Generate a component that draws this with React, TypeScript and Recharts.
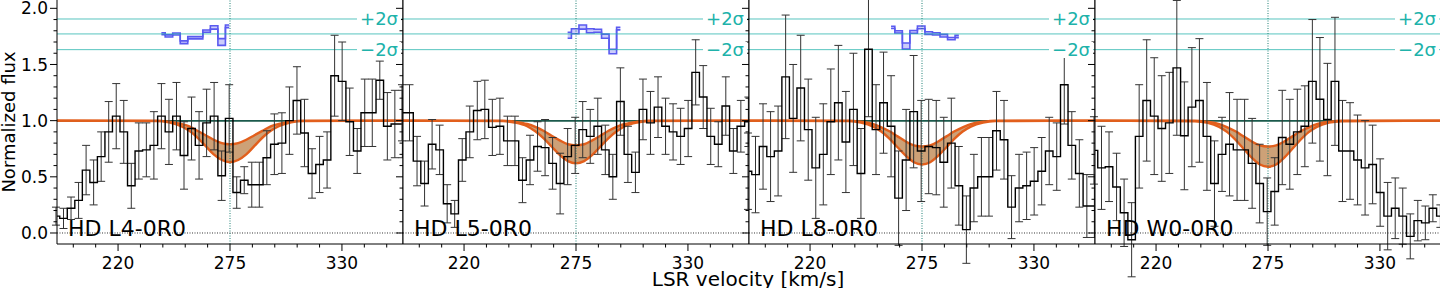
import { ComposedChart, Line, Area, XAxis, YAxis, ReferenceLine, ErrorBar } from "recharts"

const binCenters = [
  189.5, 193.2, 196.9, 200.6, 204.3, 208.0, 211.7, 215.4, 219.1, 222.8, 226.5, 230.2,
  233.9, 237.6, 241.3, 245.0, 248.7, 252.4, 256.1, 259.8, 263.5, 267.2, 270.9, 274.6,
  278.3, 282.0, 285.7, 289.4, 293.1, 296.8, 300.5, 304.2, 307.9, 311.6, 315.3, 319.0,
  322.7, 326.4, 330.1, 333.8, 337.5, 341.2, 344.9, 348.6, 352.3, 356.0, 359.7,
]

const xTicks = [198, 209, 220, 231, 242, 253, 264, 275, 286, 297, 308, 319, 330, 341, 352]
const xMajor = [220, 275, 330]
const yTicks = [0, 0.1, 0.2, 0.3, 0.4, 0.5, 0.6, 0.7, 0.8, 0.9, 1.0, 1.1, 1.2, 1.3, 1.4, 1.5, 1.6, 1.7, 1.8, 1.9, 2.0]
const yMajor = [0, 0.5, 1, 1.5, 2]
const sigmaLevels = [1.632, 1.772, 1.905]
const lineCenter = 275
const continuumVel = [190, 360]
const continuumLevel = [1, 1]

const fluxL4 = [0.15, 0.13, 0.22, 0.29, 0.56, 0.45, 0.68, 0.90, 1.04, 0.90, 0.42, 0.73, 0.74, 0.78, 1.04, 0.90, 1.04, 0.69, 0.93, 0.78, 0.98, 1.04, 0.51, 1.02, 0.36, 0.47, 0.43, 0.43, 0.67, 0.79, 0.80, 1.00, 1.18, 0.89, 0.53, 0.61, 0.65, 1.40, 1.35, 0.99, 0.73, 1.07, 1.07, 1.36, 0.95, 0.97, 0.97]
const errL4 = [0.08, 0.09, 0.1, 0.16, 0.22, 0.2, 0.22, 0.27, 0.29, 0.28, 0.2, 0.25, 0.24, 0.3, 0.29, 0.29, 0.3, 0.3, 0.28, 0.3, 0.3, 0.3, 0.22, 0.3, 0.14, 0.12, 0.2, 0.2, 0.24, 0.27, 0.27, 0.3, 0.3, 0.3, 0.22, 0.25, 0.25, 0.36, 0.35, 0.3, 0.2, 0.3, 0.3, 0.17, 0.3, 0.3, 0.3]

const fluxL5 = [1.07, 1.07, 0.64, 0.44, 0.79, 0.74, 0.26, 0.17, 0.65, 0.90, 1.09, 1.10, 0.94, 0.95, 0.82, 0.82, 0.47, 0.65, 0.77, 0.76, 0.62, 0.44, 0.68, 0.78, 0.92, 0.86, 0.95, 0.74, 0.50, 1.17, 0.70, 0.54, 1.10, 0.98, 1.12, 0.95, 0.90, 0.86, 0.93, 1.43, 1.21, 0.86, 0.79, 1.13, 0.73, 0.95, 0.99]
const errL5 = [0.25, 0.25, 0.22, 0.2, 0.22, 0.22, 0.17, 0.12, 0.19, 0.23, 0.26, 0.26, 0.25, 0.25, 0.22, 0.22, 0.2, 0.22, 0.22, 0.25, 0.23, 0.27, 0.25, 0.25, 0.25, 0.24, 0.25, 0.22, 0.2, 0.3, 0.25, 0.18, 0.27, 0.28, 0.27, 0.25, 0.25, 0.25, 0.25, 0.29, 0.28, 0.25, 0.2, 0.26, 0.2, 0.23, 0.22]

const fluxL8 = [0.55, 0.52, 0.77, 0.68, 0.73, 1.39, 1.02, 1.29, 0.92, 0.58, 0.70, 0.99, 1.16, 0.81, 1.10, 0.53, 1.635, 0.92, 1.16, 0.95, 0.31, 0.65, 1.08, 0.73, 0.77, 0.76, 0.63, 0.80, 0.42, 0.03, 0.40, 0.50, 0.50, 0.91, 0.83, 0.23, 0.40, 0.42, 0.46, 0.55, 0.73, 0.68, 1.32, 0.78, 0.53, 0.24, 0.24]
const errL8 = [0.34, 0.34, 0.38, 0.4, 0.4, 0.55, 0.48, 0.47, 0.45, 0.45, 0.45, 0.47, 0.51, 0.45, 0.5, 0.4, 0.6, 0.4, 0.45, 0.45, 0.42, 0.45, 0.5, 0.45, 0.42, 0.42, 0.4, 0.4, 0.35, 0.3, 0.3, 0.35, 0.35, 0.35, 0.35, 0.28, 0.3, 0.3, 0.3, 0.3, 0.3, 0.3, 0.35, 0.3, 0.3, 0.28, 0.28]

const fluxW0 = [0.735, 0.58, 0.59, 0.41, 0.18, -0.06, 0.86, 1.18, 1.04, 0.93, 0.98, 1.47, 0.865, 1.12, 1.18, 0.86, 0.44, 0.70, 0.79, 0.74, 0.74, 0.62, 0.44, 0.19, 0.37, 0.85, 0.79, 0.90, 0.95, 1.35, 1.19, 1.01, 1.35, 0.73, 0.73, 0.65, 0.58, 0.61, 0.36, 0.15, 0.22, 0.15, -0.03, 0.11, 0.09, 0.22, 0.15]
const errW0 = [0.3, 0.37, 0.31, 0.3, 0.3, 0.33, 0.46, 0.54, 0.52, 0.47, 0.45, 0.6, 0.48, 0.53, 0.55, 0.48, 0.38, 0.33, 0.46, 0.45, 0.45, 0.4, 0.35, 0.3, 0.3, 0.42, 0.4, 0.38, 0.36, 0.55, 0.55, 0.5, 0.57, 0.45, 0.43, 0.4, 0.42, 0.35, 0.3, 0.3, 0.27, 0.25, 0.2, 0.18, 0.15, 0.12, 0.1]

// fitted absorption envelope
const bandVel = [190, 239, 245, 251, 255, 259, 263, 267, 271, 275, 279, 283, 287, 291, 295, 299, 305, 311, 360]
const upperL4 = [1, 1.0, 0.99, 0.97, 0.95, 0.91, 0.87, 0.83, 0.80, 0.79, 0.80, 0.83, 0.87, 0.91, 0.95, 0.97, 0.99, 1.0, 1]
const lowerL4 = [1, 0.996, 0.984, 0.95, 0.91, 0.85, 0.775, 0.70, 0.65, 0.63, 0.65, 0.70, 0.775, 0.85, 0.91, 0.95, 0.984, 0.996, 1]
const upperL5 = [1, 1.0, 0.99, 0.97, 0.945, 0.91, 0.865, 0.825, 0.79, 0.78, 0.79, 0.825, 0.865, 0.91, 0.945, 0.97, 0.99, 1.0, 1]
const lowerL5 = [1, 0.996, 0.983, 0.95, 0.905, 0.845, 0.77, 0.695, 0.64, 0.62, 0.64, 0.695, 0.77, 0.845, 0.905, 0.95, 0.983, 0.996, 1]
const upperL8 = [1, 1.0, 0.99, 0.97, 0.94, 0.905, 0.86, 0.815, 0.78, 0.77, 0.78, 0.815, 0.86, 0.905, 0.94, 0.97, 0.99, 1.0, 1]
const lowerL8 = [1, 0.996, 0.983, 0.947, 0.903, 0.84, 0.763, 0.688, 0.63, 0.61, 0.63, 0.688, 0.763, 0.84, 0.903, 0.947, 0.983, 0.996, 1]
const upperW0 = [1, 1.0, 0.99, 0.97, 0.94, 0.905, 0.86, 0.815, 0.78, 0.77, 0.78, 0.815, 0.86, 0.905, 0.94, 0.97, 0.99, 1.0, 1]
const lowerW0 = [1, 0.995, 0.982, 0.945, 0.898, 0.83, 0.75, 0.67, 0.61, 0.59, 0.61, 0.67, 0.75, 0.83, 0.898, 0.945, 0.982, 0.995, 1]

// residual strip around 1.77
const residVelL4 = [241.3, 245.0, 248.7, 252.4, 256.1, 259.8, 263.5, 267.2, 270.9, 274.6]
const residLoL4 = [1.766, 1.744, 1.762, 1.686, 1.728, 1.728, 1.787, 1.815, 1.67, 1.828]
const residHiL4 = [1.782, 1.764, 1.780, 1.710, 1.748, 1.748, 1.807, 1.845, 1.73, 1.852]
const residVelL5 = [270.9, 274.6, 278.3, 282.0, 285.7, 289.4, 293.1, 296.8]
const residLoL5 = [1.733, 1.774, 1.815, 1.782, 1.787, 1.734, 1.595, 1.808]
const residHiL5 = [1.787, 1.818, 1.851, 1.818, 1.813, 1.770, 1.635, 1.832]
const residVelL8 = [259.8, 263.5, 267.2, 270.9, 274.6, 278.3, 282.0, 285.7, 289.4, 293.1]
const residLoL8 = [1.82, 1.78, 1.637, 1.778, 1.818, 1.768, 1.762, 1.744, 1.72, 1.739]
const residHiL8 = [1.84, 1.80, 1.691, 1.802, 1.842, 1.792, 1.782, 1.768, 1.74, 1.759]

const PANEL_W = 346
const PLOT_H = 244

const panels = [
  { name: "HD L4-0R0", left: 57, flux: fluxL4, err: errL4, upper: upperL4, lower: lowerL4, rv: residVelL4, rlo: residLoL4, rhi: residHiL4 },
  { name: "HD L5-0R0", left: 403, flux: fluxL5, err: errL5, upper: upperL5, lower: lowerL5, rv: residVelL5, rlo: residLoL5, rhi: residHiL5 },
  { name: "HD L8-0R0", left: 749, flux: fluxL8, err: errL8, upper: upperL8, lower: lowerL8, rv: residVelL8, rlo: residLoL8, rhi: residHiL8 },
  { name: "HD W0-0R0", left: 1095, flux: fluxW0, err: errW0, upper: upperW0, lower: lowerW0, rv: [] as number[], rlo: [] as number[], rhi: [] as number[] },
]

function XTick(props: any) {
  const { x, y, payload } = props
  const major = xMajor.includes(payload.value)
  return (
    <g>
      <line x1={x} x2={x} y1={y} y2={y + (major ? 7 : 3.5)} stroke="#000" strokeWidth={1} />
      {major && (
        <text x={x} y={y + 24.5} textAnchor="middle" fontSize={17} fill="#000">
          {payload.value}
        </text>
      )}
    </g>
  )
}

function YTick(props: any) {
  const { x, y, payload, showLabel } = props
  const major = yMajor.includes(payload.value)
  return (
    <g>
      <line x1={x - (major ? 7 : 3.5)} x2={x} y1={y} y2={y} stroke="#000" strokeWidth={1} />
      {major && showLabel && (
        <text x={x - 9} y={y} dy="0.36em" textAnchor="end" fontSize={17} fill="#000">
          {payload.value.toFixed(1)}
        </text>
      )}
    </g>
  )
}

function Panel({ p, first }: { p: (typeof panels)[number]; first: boolean }) {
  const axisW = first ? 57 : 8
  const spec = binCenters.map((v, i) => ({ v, f: p.flux[i], e: p.err[i] }))
  const band = bandVel.map((v, i) => ({ v, r: [p.lower[i], p.upper[i]] }))
  const resid = p.rv.map((v, i) => ({ v, r: [p.rlo[i], p.rhi[i]] }))
  const continuum = continuumVel.map((v, i) => ({ v, c: [continuumLevel[i], continuumLevel[i]] }))

  return (
    <div style={{ position: "absolute", left: p.left - axisW, top: 0 }}>
      <ComposedChart width={PANEL_W + axisW} height={288} margin={{ top: 0, right: 0, bottom: 0, left: 0 }}>
        <XAxis
          type="number"
          dataKey="v"
          domain={[190, 360]}
          allowDataOverflow
          ticks={xTicks}
          interval={0}
          height={288 - PLOT_H}
          tickSize={0}
          tickMargin={0}
          tickLine={false}
          tick={(t: any) => <XTick {...t} />}
          axisLine={{ stroke: "#000", strokeWidth: 1 }}
        />
        <YAxis
          type="number"
          domain={[-0.098, 2.074]}
          allowDataOverflow
          ticks={yTicks}
          interval={0}
          width={axisW}
          tickSize={0}
          tickMargin={0}
          tickLine={false}
          tick={(t: any) => <YTick {...t} showLabel={first} />}
          axisLine={{ stroke: "#000", strokeWidth: 1 }}
        />
        {sigmaLevels.map((s) => (
          <ReferenceLine key={s} y={s} stroke="#20b2aa" strokeOpacity={0.75} strokeWidth={1} />
        ))}
        <ReferenceLine y={0} stroke="#000" strokeWidth={0.8} strokeDasharray="1 1.5" />
        <ReferenceLine x={lineCenter} stroke="#1f8074" strokeWidth={1} strokeDasharray="1 1.5" />
        {/* continuum level, kept in the area layer so the fit envelope sits over it */}
        <Area
          data={continuum}
          dataKey="c"
          type="linear"
          stroke="#1b5a4c"
          strokeWidth={1.5}
          fill="none"
          dot={false}
          activeDot={false}
          isAnimationActive={false}
        />
        <Area
          data={band}
          dataKey="r"
          type="monotone"
          stroke="#e25f1c"
          strokeWidth={2.4}
          fill="#c08a55"
          fillOpacity={0.8}
          dot={false}
          activeDot={false}
          isAnimationActive={false}
        />
        {resid.length > 0 && (
          <Area
            data={resid}
            dataKey="r"
            type="step"
            stroke="#5a5af0"
            strokeWidth={1.6}
            fill="#9a9af7"
            fillOpacity={0.5}
            dot={false}
            activeDot={false}
            isAnimationActive={false}
          />
        )}
        <Line
          data={spec}
          dataKey="f"
          type="step"
          stroke="#000"
          strokeWidth={1.4}
          dot={false}
          activeDot={false}
          isAnimationActive={false}
        >
          <ErrorBar dataKey="e" width={4} stroke="#333" strokeWidth={1} direction="y" />
        </Line>
        <ReferenceLine x={360} stroke="#000" strokeWidth={1} />
      </ComposedChart>
    </div>
  )
}

export default function App() {
  return (
    <div
      style={{
        position: "absolute",
        left: 0,
        top: 0,
        width: 1440,
        height: 288,
        overflow: "hidden",
        background: "#fff",
        fontFamily: "'DejaVu Sans', sans-serif",
      }}
    >
      {panels.map((p, i) => (
        <Panel key={p.name} p={p} first={i === 0} />
      ))}
      {panels.map((p) => (
        <div key={p.name + "-txt"}>
          <div style={{ position: "absolute", left: p.left + 11, top: 218, fontSize: 22, lineHeight: "22px", color: "#000", whiteSpace: "nowrap" }}>
            {p.name}
          </div>
          <div style={{ position: "absolute", right: 1440 - (p.left + PANEL_W - 2), top: 11, fontSize: 18, lineHeight: "16px", color: "#20b2aa", background: "#fff", padding: "0 3px", whiteSpace: "nowrap" }}>
            +2σ
          </div>
          <div style={{ position: "absolute", right: 1440 - (p.left + PANEL_W - 2), top: 42, fontSize: 18, lineHeight: "16px", color: "#20b2aa", background: "#fff", padding: "0 3px", whiteSpace: "nowrap" }}>
            −2σ
          </div>
        </div>
      ))}
      <div style={{ position: "absolute", left: -91, top: 112, width: 200, textAlign: "center", transform: "rotate(-90deg)", fontSize: 18, lineHeight: "20px", color: "#000", whiteSpace: "nowrap" }}>
        Normalized flux
      </div>
      <div style={{ position: "absolute", left: 548, top: 270, width: 400, textAlign: "center", fontSize: 20, lineHeight: "18px", color: "#000", whiteSpace: "nowrap" }}>
        LSR velocity [km/s]
      </div>
    </div>
  )
}
